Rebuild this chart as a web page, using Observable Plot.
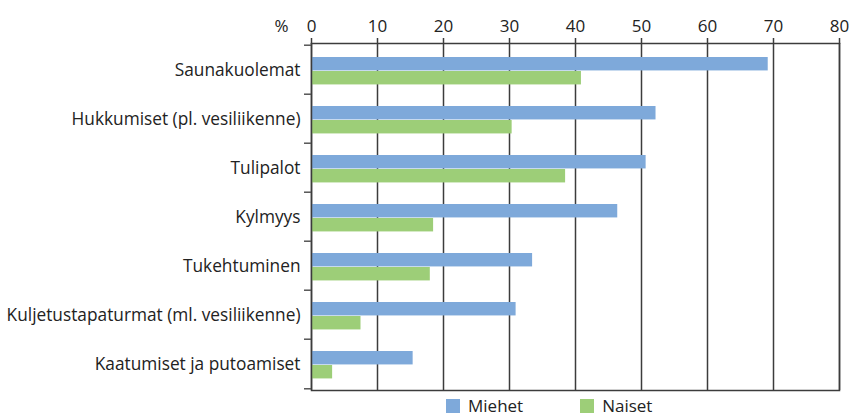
<!DOCTYPE html>
<html>
<head>
<meta charset="utf-8">
<script src="https://cdn.jsdelivr.net/npm/d3@7"></script>
<script src="https://cdn.jsdelivr.net/npm/@observablehq/plot@0.6"></script>
<style>
  html, body { margin: 0; padding: 0; background: #fff; }
  #chart svg { display: block; }
  #legend { display: flex; align-items: center; margin-left: 446px; margin-top: 2px;
            font-family: "Open Sans", sans-serif; font-size: 17px; color: #222; line-height: 20px; }
  #legend .item { display: flex; align-items: center; margin-right: 57px; }
  #legend .sw { width: 14px; height: 14px; margin-right: 8px; }
</style>
</head>
<body>
<div id="chart"></div>
<div id="legend"></div>
<script>
const categories = [
  "Saunakuolemat",
  "Hukkumiset (pl. vesiliikenne)",
  "Tulipalot",
  "Kylmyys",
  "Tukehtuminen",
  "Kuljetustapaturmat (ml. vesiliikenne)",
  "Kaatumiset ja putoamiset"
];
const miehet = [69.2, 52.2, 50.7, 46.4, 33.5, 31.0, 15.4];
const naiset = [40.9, 30.4, 38.5, 18.5, 18.0, 7.5, 3.2];
const seriesNames = ["Miehet", "Naiset"];
const seriesColors = ["#7EA9DA", "#9DCE78"];
const xTicks = [0, 10, 20, 30, 40, 50, 60, 70, 80];
const unitLabel = "%";

const dataM = categories.map((c, i) => ({category: c, series: seriesNames[0], value: miehet[i]}));
const dataN = categories.map((c, i) => ({category: c, series: seriesNames[1], value: naiset[i]}));

const H = 394, MT = 43, MB = 4;
const band = (H - MT - MB) / categories.length;
const lineColor = "#3c3c3c";

const chart = Plot.plot({
  width: 849,
  height: H,
  marginTop: MT,
  marginBottom: MB,
  marginLeft: 311,
  marginRight: 10,
  style: {fontFamily: "'Open Sans', sans-serif", fontSize: "16px", color: "#222", background: "#fff"},
  x: {domain: [0, 80], label: null},
  y: {type: "band", domain: categories, paddingInner: 0, paddingOuter: 0, label: null},
  marks: [
    Plot.ruleX(xTicks, {stroke: lineColor, strokeWidth: 1.5}),
    Plot.barX(dataM, {x: "value", y: "category", fill: seriesColors[0], insetTop: 12, insetBottom: band - 26}),
    Plot.barX(dataN, {x: "value", y: "category", fill: seriesColors[1], insetTop: 26, insetBottom: band - 40}),
    Plot.frame({stroke: lineColor, strokeWidth: 1.5}),
    Plot.axisX(xTicks, {anchor: "top", tickSize: 6, tickPadding: 6, fontSize: 17, label: null, stroke: lineColor, strokeWidth: 1.5}),
    Plot.text([unitLabel], {frameAnchor: "top-left", textAnchor: "middle", lineAnchor: "bottom", dx: -30, dy: -12, fontSize: 17, fill: "#222"}),
    Plot.axisY({anchor: "left", tickSize: 0, tickPadding: 11, fontSize: 17.3, label: null}),
    Plot.axisY(categories, {anchor: "left", tickSize: 7, tickFormat: () => "", label: null, dy: -band / 2, stroke: "#555", strokeWidth: 1.5}),
    Plot.axisY(categories.slice(-1), {anchor: "left", tickSize: 7, tickFormat: () => "", label: null, dy: band / 2, stroke: "#555", strokeWidth: 1.5})
  ]
});
document.getElementById("chart").appendChild(chart);

const legend = document.getElementById("legend");
seriesNames.forEach((name, i) => {
  const item = document.createElement("div");
  item.className = "item";
  const sw = document.createElement("div");
  sw.className = "sw";
  sw.style.background = seriesColors[i];
  const label = document.createElement("span");
  label.textContent = name;
  item.appendChild(sw);
  item.appendChild(label);
  legend.appendChild(item);
});
</script>
</body>
</html>
